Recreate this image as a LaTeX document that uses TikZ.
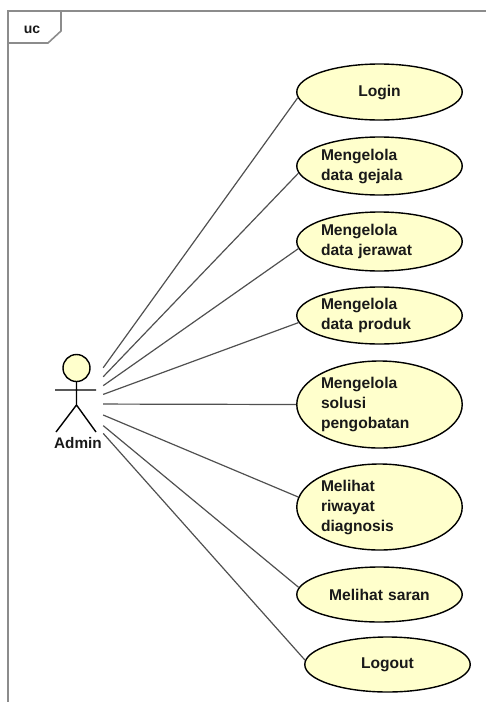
\documentclass[tikz,border=0pt]{standalone}
\usepackage{fontspec}
\setmainfont{Liberation Sans}
\usetikzlibrary{shapes,positioning,calc}
\definecolor{ucfill}{HTML}{FFFFCC}
\definecolor{framegray}{HTML}{8C8C8C}
\definecolor{linkgray}{HTML}{505050}
\tikzset{
  usecase/.style={ellipse, draw=black, line width=1.4pt, fill=ucfill, inner sep=0pt,
    text width=117pt, minimum width=165pt, text=black!90,
    font=\fontsize{15.6}{20}\selectfont\bfseries},
  link/.style={draw=linkgray, line width=1.2pt},
}

\begin{document}
\begin{tikzpicture}[x=1pt,y=-1pt]
    \useasboundingbox (0,0) rectangle (486,702);
    % Frame
    \draw[framegray, line width=1.6pt] (486,11) -- (8,11) -- (8,702);
    \draw[framegray, line width=1.6pt] (61,11) -- (61,31) -- (48,43) -- (8,43);
    \node[font=\fontsize{14}{14}\selectfont\bfseries, text=black!90] (uc) at (32,29.5) {uc};

    % Actor
    \node[minimum width=52pt, minimum height=100pt, inner sep=0pt] (admin) at (77,404) {};
    \draw[line width=1.4pt, fill=ucfill] (76.5,368) circle (13.5pt);
    \draw[line width=1.4pt] (55,390) -- (96,390)
        (76.5,381.5) -- (76.5,405) -- (56,432)
        (76.5,405) -- (96,432);
    \node[font=\fontsize{15.3}{15}\selectfont\bfseries, text=black!90] (adminlabel) at (78,443) {Admin};

    % Use cases
    \node[usecase, align=center, minimum height=56pt] (login) at (379.5,92) {Login};
    \node[usecase, align=left, minimum height=58pt] (gejala) at (379.5,166) {Mengelola\\data gejala};
    \node[usecase, align=left, minimum height=59pt] (jerawat) at (379.5,241.5) {Mengelola\\data jerawat};
    \node[usecase, align=left, minimum height=57pt] (produk) at (379.5,315.5) {Mengelola\\data produk};
    \node[usecase, align=left, minimum height=87pt] (solusi) at (379.5,404.5) {Mengelola\\solusi\\pengobatan};
    \node[usecase, align=left, minimum height=86pt] (riwayat) at (379.5,507) {Melihat\\riwayat\\diagnosis};
    \node[usecase, align=center, minimum height=55pt] (saran) at (379.5,594.5) {Melihat saran};
    \node[usecase, align=center, minimum height=55pt] (logout) at (387.5,664.5) {Logout};

    % Links
    \foreach \uc/\ang in {login/184, gejala/185, jerawat/185, produk/185,
                          solusi/180, riwayat/173, saran/175, logout/177} {
        \draw[link] (admin) -- (\uc.\ang);
    }
\end{tikzpicture}
\end{document}
